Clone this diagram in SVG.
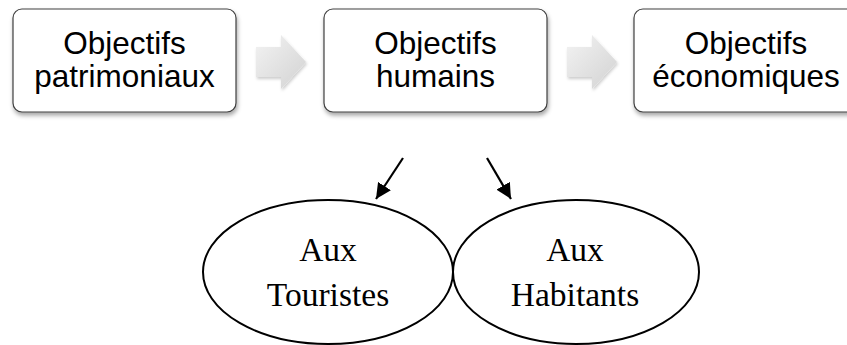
<svg xmlns="http://www.w3.org/2000/svg" width="847" height="345" viewBox="0 0 847 345">
  <defs>
    <filter id="shadow" x="-10%" y="-10%" width="130%" height="140%">
      <feDropShadow dx="1" dy="3" stdDeviation="2" flood-color="#000" flood-opacity="0.35"/>
    </filter>
    <filter id="ashadow" x="-20%" y="-20%" width="150%" height="150%">
      <feDropShadow dx="1" dy="2" stdDeviation="1.5" flood-color="#000" flood-opacity="0.2"/>
    </filter>
    <linearGradient id="agrad" x1="0" y1="0" x2="1" y2="1">
      <stop offset="0" stop-color="#f3f3f3"/>
      <stop offset="1" stop-color="#d2d2d2"/>
    </linearGradient>
    <marker id="head" viewBox="0 0 10 10" refX="10" refY="5" markerWidth="7" markerHeight="7" markerUnits="strokeWidth" orient="auto">
      <path d="M0,0 L10,5 L0,10 z" fill="#000"/>
    </marker>
    <style>
      .box { fill: #fff; stroke: #404040; stroke-width: 1.2; filter: url(#shadow); }
      .btxt { font-family: "Liberation Sans", Arial, sans-serif; font-size: 31.5px; fill: #000; text-anchor: middle; }
      .ell { fill: #fff; stroke: #000; stroke-width: 2; }
      .etxt { font-family: "Liberation Serif", "Times New Roman", serif; font-size: 33.5px; fill: #000; text-anchor: middle; }
      .blk { fill: url(#agrad); filter: url(#ashadow); }
      .con { stroke: #000; stroke-width: 2.2; fill: none; marker-end: url(#head); }
    </style>
  </defs>

  <g id="connectors">
    <path class="blk" d="M256,47 H281 V35 L306,62 L281,89 V77 H256 Z"/>
    <path class="blk" d="M567,47 H592 V35 L617,62 L592,89 V77 H567 Z"/>
    <line class="con" x1="403" y1="158" x2="376" y2="199"/>
    <line class="con" x1="487" y1="158" x2="511" y2="199"/>
  </g>

  <g id="node-patrimoniaux">
    <rect class="box" x="13" y="9" width="223" height="103" rx="9"/>
    <text class="btxt" x="124.5" y="54">Objectifs</text>
    <text class="btxt" x="124.5" y="87">patrimoniaux</text>
  </g>

  <g id="node-humains">
    <rect class="box" x="324" y="9" width="223" height="103" rx="9"/>
    <text class="btxt" x="435.5" y="54">Objectifs</text>
    <text class="btxt" x="435.5" y="87">humains</text>
  </g>

  <g id="node-economiques">
    <rect class="box" x="634" y="9" width="224" height="103" rx="9"/>
    <text class="btxt" x="746" y="54">Objectifs</text>
    <text class="btxt" x="746" y="87">économiques</text>
  </g>

  <g id="node-touristes">
    <ellipse class="ell" cx="328" cy="272" rx="125" ry="72"/>
    <text class="etxt" x="328" y="261">Aux</text>
    <text class="etxt" x="328" y="306">Touristes</text>
  </g>

  <g id="node-habitants">
    <ellipse class="ell" cx="576" cy="272" rx="123" ry="72"/>
    <text class="etxt" x="575" y="261">Aux</text>
    <text class="etxt" x="575" y="306">Habitants</text>
  </g>
</svg>
